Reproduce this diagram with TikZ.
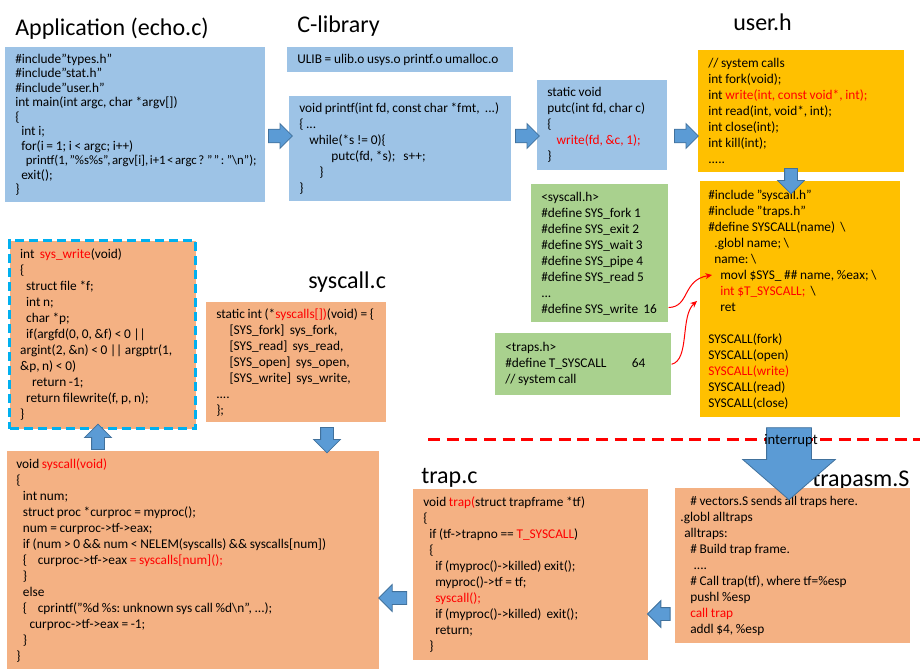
\documentclass[tikz,border=0pt]{standalone}
\usepackage{fontspec}
\setmainfont{Carlito}
\usetikzlibrary{shapes.arrows,arrows.meta}
\definecolor{boxblue}{HTML}{9DC3E6}
\definecolor{arrowblue}{HTML}{5B9BD5}
\definecolor{arrowedge}{HTML}{41719C}
\definecolor{useryellow}{HTML}{FFC000}
\definecolor{kernsalmon}{HTML}{F4B183}
\definecolor{hdrgreen}{HTML}{A9D18E}
\definecolor{dashcyan}{HTML}{00B0F0}
\newcommand{\redtxt}[1]{\textcolor{red}{#1}}
\newcommand{\codeind}[1]{\hspace*{#1}}

\tikzset{
  code/.style={anchor=north west, inner xsep=7.5pt, inner ysep=0pt, align=left,
    font=\fontsize{10}{12}\selectfont,
    execute at begin node={\rightskip=-15pt plus 1fil%
      \spaceskip=0.2em plus 0.01em minus 0.01em\xspaceskip=\spaceskip}},
  title/.style={anchor=base west, inner sep=0pt, font=\fontsize{18}{22}\selectfont},
  blockarrow/.style={single arrow, fill=arrowblue, draw=arrowedge, line width=0.6pt,
    inner sep=4.8pt, single arrow head extend=4.2pt, minimum width=18pt, minimum height=18pt},
  downarrow/.style={blockarrow, shape border rotate=270, inner sep=4.5pt,
    single arrow head extend=5.25pt, minimum width=19.5pt, minimum height=19pt},
  redlink/.style={draw=red, line width=0.75pt, -{Stealth[length=5pt,width=4.5pt]}},
  cutline/.style={draw=red, line width=2.25pt, dash pattern=on 9pt off 5pt}
}

\begin{document}
\begin{tikzpicture}[x=0.75pt, y=-0.75pt]
  \useasboundingbox (0,0) rectangle (924,671);
  % titles
  \node[title] (apptitle) at (15,35) {Application (echo.c)};
  \node[title] (libtitle) at (297,32) {C-library};
  \node[title] (usertitle) at (733,30) {user.h};
  \node[title] (sctitle) at (308,288) {syscall.c};
  \node[title] (traptitle) at (421,483) {trap.c};
  \node[title] (asmtitle) at (812,486) {trapasm.S};

  % user side
  \node[code, fill=boxblue, text width=180pt, minimum height=116.25pt,
        font=\fontsize{10}{10.9}\selectfont] (app) at (5,47) {%
\#include"types.h"\\
\#include"stat.h"\\
\#include"user.h"\\
int main(int argc, char *argv[])\\
\{\\
\codeind{4.5pt}int i;\\
\codeind{4.5pt}for(i = 1; i < argc; i++)\\
\codeind{8pt}{\fontsize{9.6}{10.9}\selectfont\spaceskip=0.12em
printf(1, "\%s\%s", argv[i], i+1 < argc ? " " : "\textbackslash n");}\\
\codeind{4.5pt}exit();\\
\}};
  \node[code, fill=boxblue, text width=154.5pt, minimum height=18.75pt] (ulib) at (287,47)
    {ULIB = ulib.o usys.o printf.o umalloc.o};
  \node[code, fill=boxblue, text width=151.5pt, minimum height=78.75pt] (printf) at (289,96) {%
void printf(int fd, const char *fmt,\ \ ...)\\
\{ ...\\
\codeind{7.5pt}while(*s != 0)\{\\
\codeind{24pt}putc(fd, *s);\hspace*{6pt}s++;\\
\codeind{15pt}\}\\
\}};
  \node[code, fill=boxblue, text width=82.5pt, minimum height=67.5pt] (putc) at (537,80) {%
static void\\
putc(int fd, char c)\\
\{\\
\codeind{7pt}\redtxt{write(fd, \&c, 1);}\\
\}};
  \node[code, fill=useryellow, text width=139.5pt, minimum height=91.5pt] (userh) at (698,50) {%
// system calls\\
int fork(void);\\
int \redtxt{write(int,\ const void*, int);}\\
int read(int, void*, int);\\
int close(int);\\
int kill(int);\\
.....};
  \node[code, fill=useryellow, text width=138pt, minimum height=177pt, inner xsep=6pt] (usys) at (700,181) {%
\#include "syscall.h"\\
\#include "traps.h"\\
\#define SYSCALL(name)\ \ \textbackslash\\
\codeind{4.5pt}.globl name; \textbackslash\\
\codeind{4.5pt}name: \textbackslash\\
\codeind{9pt}movl \$SYS\_ \#\# name, \%eax; \textbackslash\\
\codeind{9pt}\redtxt{int \$T\_SYSCALL;}\ \ \textbackslash\\
\codeind{9pt}ret\\[12pt]
SYSCALL(fork)\\
SYSCALL(open)\\
\redtxt{SYSCALL(write)}\\
SYSCALL(read)\\
SYSCALL(close)};
  \node[code, fill=hdrgreen, text width=87.75pt, minimum height=103.5pt] (sysh) at (531,184) {%
<syscall.h>\\
\#define SYS\_fork 1\\
\#define SYS\_exit 2\\
\#define SYS\_wait 3\\
\#define SYS\_pipe 4\\
\#define SYS\_read 5\\
...\\
\#define SYS\_write\ \ 16};
  \node[code, fill=hdrgreen, text width=117pt, minimum height=46.5pt] (trapsh) at (495,333) {%
<traps.h>\\
\#define T\_SYSCALL\hspace*{19pt}64\\
// system call};

  % kernel side
  \node[code, fill=kernsalmon, draw=dashcyan, line width=2.25pt, dash pattern=on 6.75pt off 3.75pt,
        text width=123.75pt, minimum height=141pt, inner xsep=8pt] (syswrite) at (8,239) {%
int\ \ \redtxt{sys\_write}(void)\\
\{\\
\codeind{4.5pt}struct file *f;\\
\codeind{4.5pt}int n;\\
\codeind{4.5pt}char *p;\\
\codeind{4.5pt}if(argfd(0, 0, \&f) < 0 ||\\
argint(2, \&n) < 0 || argptr(1,\\
\&p, n) < 0)\\
\codeind{9pt}return -1;\\
\codeind{4.5pt}return filewrite(f, p, n);\\
\}};
  \node[code, fill=kernsalmon, text width=120pt, minimum height=90pt] (syscallc) at (206,302) {%
static int (*\redtxt{syscalls[])}(void) = \{\\
\codeind{10pt}[SYS\_fork]\ \ sys\_fork,\\
\codeind{10pt}[SYS\_read]\ \ sys\_read,\\
\codeind{10pt}[SYS\_open]\ \ sys\_open,\\
\codeind{10pt}[SYS\_write]\ \ sys\_write,\\
....\\
\};};
  \node[code, fill=kernsalmon, text width=265.5pt, minimum height=163.5pt, inner xsep=6.75pt] (syscall) at (7,451) {%
void \redtxt{syscall(void)}\\
\{\\
\codeind{5pt}int num;\\
\codeind{5pt}struct proc *curproc = myproc();\\
\codeind{5pt}num = curproc->tf->eax;\\
\codeind{5pt}if (num > 0 \&\& num < NELEM(syscalls) \&\& syscalls[num])\\
\codeind{5pt}\{\hspace*{8pt}curproc->tf->eax \redtxt{= syscalls[num]();}\\
\codeind{5pt}\}\\
\codeind{5pt}else\\
\codeind{5pt}\{\hspace*{8pt}cprintf("\%d \%s: unknown sys call \%d\textbackslash n", ...);\\
\codeind{10pt}curproc->tf->eax = -1;\\
\codeind{5pt}\}\\
\}};
  \node[code, fill=kernsalmon, text width=161.25pt, minimum height=128.25pt] (trapc) at (413,489) {%
void \redtxt{trap(}struct trapframe *tf)\\
\{\\
\codeind{4.5pt}if (tf->trapno == \redtxt{T\_SYSCALL})\\
\codeind{4.5pt}\{\\
\codeind{9pt}if (myproc()->killed) exit();\\
\codeind{9pt}myproc()->tf = tf;\\
\codeind{9pt}\redtxt{syscall();}\\
\codeind{9pt}if (myproc()->killed)\ \ exit();\\
\codeind{9pt}return;\\
\codeind{4.5pt}\}};
  \node[code, fill=kernsalmon, text width=168.75pt, minimum height=116.25pt, inner xsep=3.75pt] (trapasm) at (675,488) {%
\codeind{7.5pt}\# vectors.S sends all traps here.\\
.globl alltraps\\
\codeind{3pt}alltraps:\\
\codeind{7.5pt}\# Build trap frame.\\
\codeind{10pt}....\\
\codeind{7.5pt}\# Call trap(tf), where tf=\%esp\\
\codeind{7.5pt}pushl \%esp\\
\codeind{7.5pt}\redtxt{call trap}\\
\codeind{7.5pt}addl \$4, \%esp};

  % user/kernel boundary
  \draw[cutline] (428,439) -- (920,439);

  % block arrows
  \node[blockarrow] (a1) at (277,136) {};
  \node[blockarrow] (a2) at (524,136) {};
  \node[blockarrow] (a3) at (683,136) {};
  \node[downarrow] (a4) at (791,178) {};
  \node[downarrow] (a5) at (327,437) {};
  \node[downarrow, shape border rotate=90] (a6) at (98,440) {};
  \node[downarrow, shape border rotate=180, minimum height=17pt] (a7) at (662,614) {};
  \node[downarrow, shape border rotate=180, minimum height=21pt] (a8) at (396,598) {};
  \node[downarrow, inner sep=16.5pt, minimum width=69pt, minimum height=54pt,
        single arrow head extend=18pt, single arrow tip angle=98] (irq) at (789,454) {};
  \node[font=\fontsize{11}{13}\selectfont, inner sep=0pt] (irqlabel) at (791,441) {interrupt};

  % red links into usys.S
  \coordinate (movl) at (712,275);
  \coordinate (trapint) at (697,301);
  \draw[redlink] ([yshift=11.25pt]sysh.south east) .. controls (690,307) and (682,280) .. (movl);
  \draw[redlink] (trapsh.east) .. controls (690,360) and (680,316) .. (trapint);
\end{tikzpicture}
\end{document}
